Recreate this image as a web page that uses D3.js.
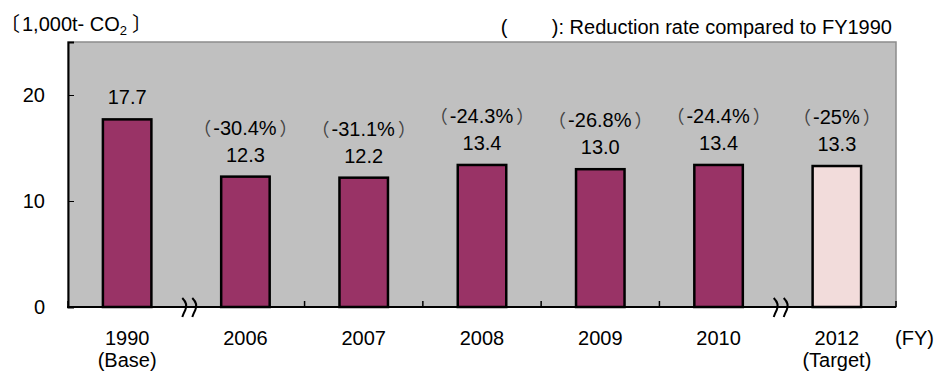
<!DOCTYPE html>
<html>
<head>
<meta charset="utf-8">
<script src="https://cdn.jsdelivr.net/npm/d3@7"></script>
<style>
body { margin: 0; background: #fff; }
text { font-family: "Liberation Sans", Arial, sans-serif; fill: #000; }
.cjk { font-family: "Noto Sans CJK JP"; }
</style>
</head>
<body>
<svg class="chart" width="936" height="374"></svg>
<script>

var categories = ['1990', '2006', '2007', '2008', '2009', '2010', '2012'];
var subLabels = ['(Base)', '', '', '', '', '', '(Target)'];
var values = [17.7, 12.3, 12.2, 13.4, 13.0, 13.4, 13.3];
var rates = [null, '-30.4%', '-31.1%', '-24.3%', '-26.8%', '-24.4%', '-25%'];
var yTicks = [0, 10, 20];
var breaksAfter = [0, 5];   // axis is broken after these categories

var config = {
	width: 936,
	height: 374,
	left: 68,
	right: 896,
	top: 42,
	bottom: 307,
	font: 20,
	barColor: '#993366',
	targetColor: '#f2dcdb',
	plotBg: '#c0c0c0'
};

var data = categories.map((c, i) => ({ x: c, sub: subLabels[i], y: values[i], rate: rates[i], target: i == categories.length - 1 }));

var svg = d3.select('.chart');

var xScale = d3.scaleBand()
	.domain(categories)
	.range([config.left, config.right])
	.paddingInner(0.59)
	.paddingOuter(0.295);

var yScale = d3.scaleLinear()
	.domain([0, 25])
	.range([config.bottom, config.top]);

var step = xScale.step();
var boundary = i => xScale.range()[0] + i * step;

// plot area
svg.append('rect')
	.attr('x', config.left)
	.attr('y', config.top)
	.attr('width', config.right - config.left)
	.attr('height', config.bottom - config.top)
	.attr('fill', config.plotBg)
	.attr('stroke', '#8c8c8c')
	.attr('stroke-width', 1.5);

// bars
svg.selectAll('.bar')
	.data(data)
	.enter()
	.append('rect')
	.attr('class', 'bar')
	.attr('x', d => xScale(d.x))
	.attr('width', xScale.bandwidth())
	.attr('y', d => yScale(d.y))
	.attr('height', d => yScale(0) - yScale(d.y))
	.attr('fill', d => d.target ? config.targetColor : config.barColor)
	.attr('stroke', '#000')
	.attr('stroke-width', 2.5);

// value labels
svg.selectAll('.val')
	.data(data)
	.enter()
	.append('text')
	.attr('x', d => xScale(d.x) + xScale.bandwidth() / 2)
	.attr('y', d => yScale(d.y) - 15)
	.attr('text-anchor', 'middle')
	.attr('font-size', config.font)
	.text(d => d.y.toFixed(1));

// reduction rate labels, with full-width brackets
var rateText = svg.selectAll('.rate')
	.data(data.filter(d => d.rate))
	.enter()
	.append('text')
	.attr('x', d => xScale(d.x) + xScale.bandwidth() / 2)
	.attr('y', d => yScale(d.y) - 42)
	.attr('text-anchor', 'middle')
	.attr('font-size', config.font);
rateText.append('tspan').attr('class', 'cjk').attr('fill', '#444').attr('font-size', 18).text('\uff08');
rateText.append('tspan').attr('dx', 2).text(d => d.rate);
rateText.append('tspan').attr('class', 'cjk').attr('fill', '#444').attr('font-size', 18).attr('dx', 3).text('\uff09');

// y axis
var yAxisGen = d3.axisLeft(yScale).tickValues(yTicks).tickSize(-6).tickPadding(23);
var yAxis = svg.append('g')
	.attr('transform', 'translate(' + config.left + ',0)')
	.call(yAxisGen);
yAxis.select('.domain').attr('stroke', '#000').attr('stroke-width', 2);
yAxis.selectAll('.tick line').attr('stroke', '#000');
yAxis.selectAll('text')
	.attr('font-size', config.font)
	.attr('font-family', '"Liberation Sans", Arial, sans-serif')
	.attr('fill', '#000');

// x axis line
svg.append('line')
	.attr('x1', config.left - 1)
	.attr('x2', config.right)
	.attr('y1', yScale(0))
	.attr('y2', yScale(0))
	.attr('stroke', '#000')
	.attr('stroke-width', 2);

// category ticks (pointing up), skipping the breaks
d3.range(categories.length + 1)
	.filter(i => breaksAfter.indexOf(i - 1) < 0)
	.forEach(function (i) {
		svg.append('line')
			.attr('x1', boundary(i))
			.attr('x2', boundary(i))
			.attr('y1', yScale(0))
			.attr('y2', yScale(0) - 6)
			.attr('stroke', '#000')
			.attr('stroke-width', 1.5);
	});

// break marks
breaksAfter.forEach(function (i) {
	var bx = boundary(i + 1) + 3;
	var g = svg.append('g').attr('transform', 'translate(' + bx + ',' + yScale(0) + ')');
	[-5, 5].forEach(function (dx) {
		g.append('path')
			.attr('d', 'M' + (dx - 2) + ',-9 Q' + (dx + 4) + ',-3 ' + (dx + 1) + ',3 Q' + (dx - 1) + ',7 ' + (dx - 2) + ',10')
			.attr('fill', 'none')
			.attr('stroke', '#000')
			.attr('stroke-width', 2);
	});
});

// x labels
var xl = svg.selectAll('.xl')
	.data(data)
	.enter()
	.append('text')
	.attr('text-anchor', 'middle')
	.attr('font-size', config.font);
xl.append('tspan')
	.attr('x', d => xScale(d.x) + xScale.bandwidth() / 2)
	.attr('y', config.bottom + 38)
	.text(d => d.x);
xl.append('tspan')
	.attr('x', d => xScale(d.x) + xScale.bandwidth() / 2)
	.attr('y', config.bottom + 60)
	.text(d => d.sub);

svg.append('text')
	.attr('x', 895)
	.attr('y', config.bottom + 38)
	.attr('font-size', config.font)
	.text('(FY)');

// unit label
var unit = svg.append('text')
	.attr('x', 0)
	.attr('y', 31)
	.attr('font-size', config.font);
unit.append('tspan').attr('class', 'cjk').attr('font-size', 20).text('\u3014');
unit.append('tspan').attr('dx', 2).text('1,000t- CO');
unit.append('tspan').attr('font-size', 13).attr('dy', 4).text('2');
unit.append('tspan').attr('class', 'cjk').attr('font-size', 20).attr('dx', 5).attr('dy', -4).text('\u3015');

// note
svg.append('text')
	.attr('x', 892)
	.attr('y', 34)
	.attr('text-anchor', 'end')
	.attr('font-size', config.font)
	.attr('xml:space', 'preserve')
	.text('(        ): Reduction rate compared to FY1990');

</script>
</body>
</html>
